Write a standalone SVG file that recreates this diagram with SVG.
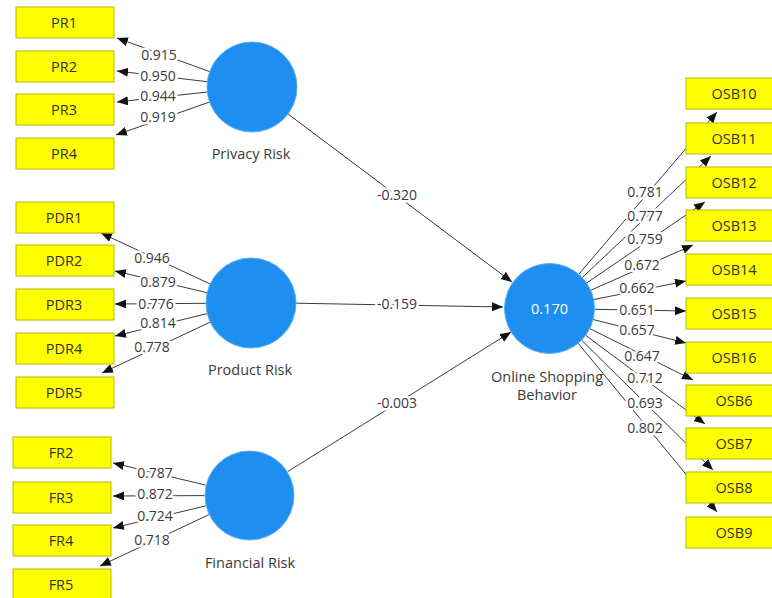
<svg xmlns="http://www.w3.org/2000/svg" width="772" height="598" viewBox="0 0 772 598">
<defs>
<marker id="ah" markerUnits="userSpaceOnUse" markerWidth="12" markerHeight="10" refX="11" refY="4.5" orient="auto">
<path d="M0,0 L11,4.5 L0,9 z" fill="#111"/>
</marker>
<style>
.ln{stroke:#3a3a3a;stroke-width:1;fill:none;marker-end:url(#ah)}
.lb{font-family:"Open Sans","Noto Sans",sans-serif;font-size:14px;fill:#3a3a3a;text-anchor:middle;stroke:#fff;stroke-width:5;paint-order:stroke;stroke-linejoin:round}
.box{fill:#ffff00;stroke:#b8b800;stroke-width:1}
.bt{font-family:"Open Sans","Noto Sans",sans-serif;font-size:14.5px;fill:#333;text-anchor:middle}
.lv{fill:#1e8ff0;stroke:#5aaef5;stroke-width:1}
.nt{font-family:"Open Sans","Noto Sans",sans-serif;font-size:14.5px;fill:#3a3a3a;text-anchor:middle}
</style>
</defs>
<rect width="772" height="598" fill="#fff"/>
<g id="connectors">
<line class="ln" x1="209.7" y1="71.6" x2="117" y2="38"/>
<line class="ln" x1="207.3" y1="81.7" x2="117" y2="71"/>
<line class="ln" x1="207.3" y1="92" x2="117" y2="102"/>
<line class="ln" x1="209.6" y1="102" x2="116" y2="135"/>
<text class="lb" x="159" y="60">0.915</text>
<text class="lb" x="158" y="81">0.950</text>
<text class="lb" x="158" y="101">0.944</text>
<text class="lb" x="158" y="122">0.919</text>
<line class="ln" x1="210.2" y1="284" x2="101" y2="233"/>
<line class="ln" x1="207.2" y1="292.7" x2="115" y2="271"/>
<line class="ln" x1="206" y1="303.3" x2="115" y2="304"/>
<line class="ln" x1="207.3" y1="313.6" x2="115" y2="336"/>
<line class="ln" x1="210.3" y1="322.1" x2="102" y2="373"/>
<text class="lb" x="152" y="263">0.946</text>
<text class="lb" x="158" y="287">0.879</text>
<text class="lb" x="156" y="309">0.776</text>
<text class="lb" x="158" y="328">0.814</text>
<text class="lb" x="152" y="352">0.778</text>
<line class="ln" x1="205.7" y1="485.1" x2="113" y2="463"/>
<line class="ln" x1="204.5" y1="495.6" x2="113" y2="496"/>
<line class="ln" x1="205.7" y1="505.9" x2="113" y2="528"/>
<line class="ln" x1="208.8" y1="514.7" x2="100" y2="566"/>
<text class="lb" x="155" y="478">0.787</text>
<text class="lb" x="155" y="499">0.872</text>
<text class="lb" x="155" y="521">0.724</text>
<text class="lb" x="152" y="545">0.718</text>
<line class="ln" x1="288" y1="114" x2="512" y2="282"/>
<line class="ln" x1="296" y1="303.2" x2="503" y2="307"/>
<line class="ln" x1="287.7" y1="471.6" x2="511" y2="332"/>
<text class="lb" x="397" y="200">-0.320</text>
<text class="lb" x="397" y="309">-0.159</text>
<text class="lb" x="397" y="408">-0.003</text>
<line class="ln" x1="578.7" y1="274.3" x2="717" y2="112"/>
<line class="ln" x1="582.2" y1="277.6" x2="711" y2="156"/>
<line class="ln" x1="586.6" y1="283.1" x2="705" y2="202"/>
<line class="ln" x1="590.7" y1="290.3" x2="693" y2="245"/>
<line class="ln" x1="593.6" y1="299.6" x2="686" y2="281"/>
<line class="ln" x1="594.5" y1="309.3" x2="686" y2="311"/>
<line class="ln" x1="593.1" y1="319.5" x2="686" y2="343"/>
<line class="ln" x1="589.8" y1="328.6" x2="693" y2="380"/>
<line class="ln" x1="585.6" y1="335.3" x2="705" y2="424"/>
<line class="ln" x1="581.5" y1="340.1" x2="713" y2="470"/>
<line class="ln" x1="578.1" y1="343.2" x2="717" y2="512"/>
<text class="lb" x="645" y="197">0.781</text>
<text class="lb" x="645" y="221">0.777</text>
<text class="lb" x="645" y="244">0.759</text>
<text class="lb" x="642" y="270">0.672</text>
<text class="lb" x="637" y="293">0.662</text>
<text class="lb" x="637" y="315">0.651</text>
<text class="lb" x="637" y="335">0.657</text>
<text class="lb" x="642" y="361">0.647</text>
<text class="lb" x="645" y="383">0.712</text>
<text class="lb" x="645" y="408">0.693</text>
<text class="lb" x="645" y="433">0.802</text>
</g>
<g id="PR1"><rect class="box" x="16" y="7" width="98" height="31"/><text class="bt" x="64" y="28">PR1</text></g>
<g id="PR2"><rect class="box" x="16" y="51" width="98" height="31"/><text class="bt" x="64" y="72">PR2</text></g>
<g id="PR3"><rect class="box" x="16" y="94" width="98" height="31"/><text class="bt" x="64" y="115">PR3</text></g>
<g id="PR4"><rect class="box" x="16" y="138" width="98" height="31"/><text class="bt" x="64" y="159">PR4</text></g>
<g id="PDR1"><rect class="box" x="16" y="202" width="98" height="31"/><text class="bt" x="64" y="223">PDR1</text></g>
<g id="PDR2"><rect class="box" x="16" y="245" width="98" height="31"/><text class="bt" x="64" y="266">PDR2</text></g>
<g id="PDR3"><rect class="box" x="16" y="289" width="98" height="31"/><text class="bt" x="64" y="310">PDR3</text></g>
<g id="PDR4"><rect class="box" x="16" y="333" width="98" height="31"/><text class="bt" x="64" y="354">PDR4</text></g>
<g id="PDR5"><rect class="box" x="16" y="377" width="98" height="31"/><text class="bt" x="64" y="398">PDR5</text></g>
<g id="FR2"><rect class="box" x="13" y="437" width="98" height="31"/><text class="bt" x="61" y="458">FR2</text></g>
<g id="FR3"><rect class="box" x="13" y="482" width="98" height="31"/><text class="bt" x="61" y="503">FR3</text></g>
<g id="FR4"><rect class="box" x="13" y="525" width="98" height="31"/><text class="bt" x="61" y="546">FR4</text></g>
<g id="FR5"><rect class="box" x="13" y="569" width="98" height="31"/><text class="bt" x="61" y="590">FR5</text></g>
<g id="OSB10"><rect class="box" x="686" y="78" width="98" height="31"/><text class="bt" x="734" y="99">OSB10</text></g>
<g id="OSB11"><rect class="box" x="686" y="123" width="98" height="31"/><text class="bt" x="734" y="144">OSB11</text></g>
<g id="OSB12"><rect class="box" x="686" y="167" width="98" height="31"/><text class="bt" x="734" y="188">OSB12</text></g>
<g id="OSB13"><rect class="box" x="686" y="210" width="98" height="31"/><text class="bt" x="734" y="231">OSB13</text></g>
<g id="OSB14"><rect class="box" x="686" y="254" width="98" height="31"/><text class="bt" x="734" y="275">OSB14</text></g>
<g id="OSB15"><rect class="box" x="686" y="298" width="98" height="31"/><text class="bt" x="734" y="319">OSB15</text></g>
<g id="OSB16"><rect class="box" x="686" y="342" width="98" height="31"/><text class="bt" x="734" y="363">OSB16</text></g>
<g id="OSB6"><rect class="box" x="686" y="385" width="98" height="31"/><text class="bt" x="734" y="406">OSB6</text></g>
<g id="OSB7"><rect class="box" x="686" y="428" width="98" height="31"/><text class="bt" x="734" y="449">OSB7</text></g>
<g id="OSB8"><rect class="box" x="686" y="472" width="98" height="31"/><text class="bt" x="734" y="493">OSB8</text></g>
<g id="OSB9"><rect class="box" x="686" y="517" width="98" height="31"/><text class="bt" x="734" y="538">OSB9</text></g>
<g id="PrivacyRisk"><circle class="lv" cx="252" cy="87" r="45"/><text class="nt" x="251" y="159">Privacy Risk</text></g>
<g id="ProductRisk"><circle class="lv" cx="251" cy="303" r="45"/><text class="nt" x="250" y="375">Product Risk</text></g>
<g id="FinancialRisk"><circle class="lv" cx="249.5" cy="495.5" r="44.5"/><text class="nt" x="250" y="568">Financial Risk</text></g>
<g id="OnlineShoppingBehavior"><circle class="lv" cx="549.5" cy="308.5" r="45"/><text class="nt" x="549.5" y="313.5" style="fill:#fff">0.170</text><text class="nt" x="547" y="382">Online Shopping</text><text class="nt" x="547" y="400">Behavior</text></g>
</svg>
